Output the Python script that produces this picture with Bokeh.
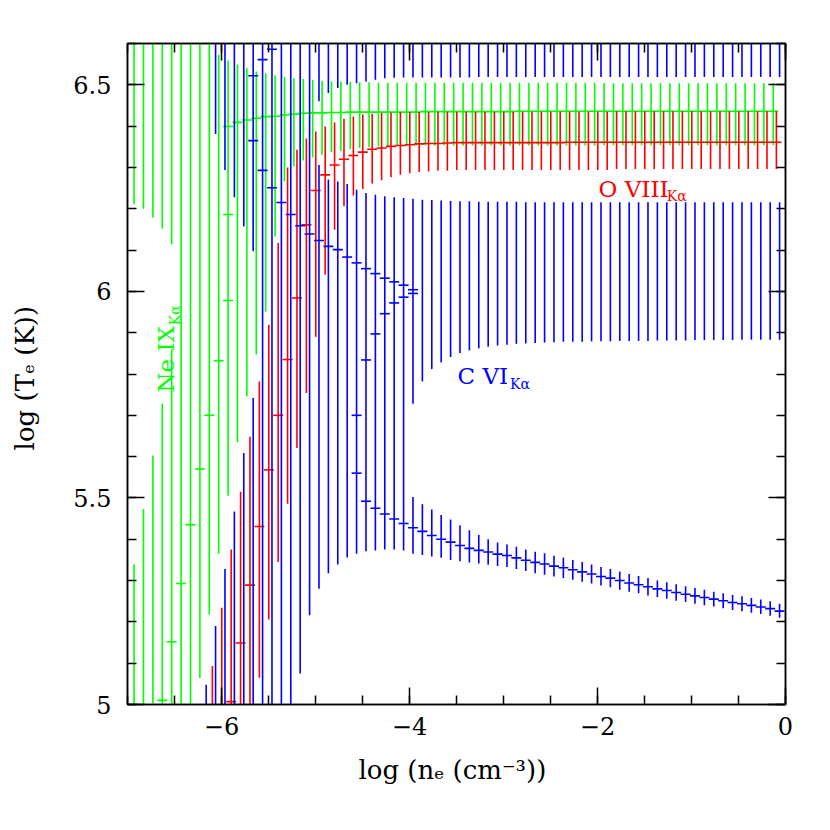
import numpy as np
from bokeh.plotting import figure
from bokeh.models import Range1d, LinearAxis, FixedTicker, ColumnDataSource
from bokeh.transform import dodge
from bokeh.core.properties import value
from bokeh.embed import file_html
from bokeh.resources import INLINE

# ---------------- data ----------------
# density grid, log(n_e) (index k = 0..68)
LOG_NE = [-6.93, -6.83, -6.73, -6.63, -6.53, -6.43, -6.33, -6.23, -6.13, -6.03,
          -5.93, -5.83, -5.73, -5.63, -5.53, -5.43, -5.33, -5.23, -5.13, -5.03,
          -4.93, -4.83, -4.73, -4.63, -4.53, -4.43, -4.33, -4.23, -4.13, -4.03,
          -3.93, -3.83, -3.73, -3.63, -3.53, -3.43, -3.33, -3.23, -3.13, -3.03,
          -2.93, -2.83, -2.73, -2.63, -2.53, -2.43, -2.33, -2.23, -2.13, -2.03,
          -1.93, -1.83, -1.73, -1.63, -1.53, -1.43, -1.33, -1.23, -1.13, -1.03,
          -0.93, -0.83, -0.73, -0.63, -0.53, -0.43, -0.33, -0.23, -0.13]

OFF_LOW = 4.9    # interval continues below the plotted range
OFF_TOP = 6.7    # interval continues above the plotted range

# ---- Ne IX (green) ----
NE_MAIN_K = list(range(0, 69))
NE_MAIN_LO = [4.9, 4.9, 4.9, 4.9, 4.9, 4.9, 4.9, 5.064, 5.218, 5.365,
              5.505, 5.635, 5.746, 5.847, 5.951, 6.133, 6.266, 6.303, 6.317, 6.324,
              6.331, 6.337, 6.340, 6.344, 6.347, 6.349, 6.351, 6.352, 6.353, 6.353,
              6.353, 6.353, 6.353, 6.353, 6.353, 6.353, 6.353, 6.353, 6.353, 6.353,
              6.353, 6.353, 6.353, 6.353, 6.353, 6.353, 6.353, 6.353, 6.353, 6.353,
              6.354, 6.354, 6.354, 6.354, 6.354, 6.354, 6.354, 6.354, 6.354, 6.354,
              6.354, 6.354, 6.354, 6.354, 6.354, 6.354, 6.354, 6.354, 6.354]
NE_MAIN_HI = [5.339, 5.473, 5.603, 5.728, 5.860, 6.7, 6.7, 6.7, 6.7, 6.573,
              6.559, 6.549, 6.540, 6.532, 6.528, 6.523, 6.519, 6.516, 6.514, 6.512,
              6.510, 6.508, 6.508, 6.507, 6.506, 6.506, 6.505, 6.505, 6.505, 6.505,
              6.505, 6.505, 6.505, 6.505, 6.505, 6.505, 6.505, 6.505, 6.505, 6.505,
              6.505, 6.505, 6.505, 6.505, 6.505, 6.505, 6.505, 6.505, 6.505, 6.505,
              6.504, 6.504, 6.504, 6.504, 6.504, 6.504, 6.504, 6.504, 6.504, 6.504,
              6.504, 6.504, 6.504, 6.504, 6.504, 6.504, 6.504, 6.504, 6.504]
NE_UP_K = [0, 1, 2, 3, 4]
NE_UP_LO = [6.211, 6.200, 6.179, 6.152, 6.114]
NE_CAP_K = [3, 4, 5, 6, 7, 8, 9, 10, 10, 10] + list(range(11, 69))
NE_CAP_T = [5.010, 5.152, 5.293, 5.435, 5.570, 5.700, 5.832, 5.978, 6.186, 6.399,
            6.409, 6.415, 6.419, 6.423, 6.424, 6.427, 6.429, 6.431, 6.432, 6.432,
            6.433, 6.433, 6.434, 6.434, 6.434, 6.434, 6.434, 6.434, 6.434, 6.434,
            6.435, 6.435, 6.435, 6.435, 6.435, 6.435, 6.435, 6.435, 6.435, 6.435,
            6.436, 6.436, 6.436, 6.436, 6.436, 6.436, 6.436, 6.436, 6.436, 6.436,
            6.436, 6.436, 6.436, 6.436, 6.436, 6.436, 6.436, 6.436, 6.436, 6.436,
            6.436, 6.436, 6.436, 6.436, 6.436, 6.436, 6.436, 6.436]

# ---- O VIII (red) ----
O8_MAIN_K = list(range(8, 69))
O8_MAIN_LO = [4.9, 4.9, 4.9, 4.9, 4.9, 5.065, 5.206, 5.345, 5.486, 5.621,
              5.754, 5.890, 6.040, 6.149, 6.206, 6.232, 6.248, 6.261, 6.269, 6.276,
              6.282, 6.286, 6.289, 6.290, 6.292, 6.292, 6.294, 6.294, 6.294, 6.294,
              6.294, 6.294, 6.294, 6.294, 6.294, 6.294, 6.294, 6.294, 6.294, 6.294,
              6.294, 6.294, 6.294, 6.296, 6.296, 6.296, 6.296, 6.296, 6.296, 6.296,
              6.296, 6.296, 6.296, 6.296, 6.296, 6.296, 6.296, 6.296, 6.296, 6.296,
              6.296]
O8_MAIN_HI = [5.093, 5.234, 5.375, 5.515, 5.648, 5.782, 5.919, 6.117, 6.300, 6.343,
              6.370, 6.387, 6.399, 6.409, 6.418, 6.423, 6.428, 6.430, 6.432, 6.433,
              6.434, 6.434, 6.434, 6.434, 6.435, 6.435, 6.435, 6.435, 6.435, 6.435,
              6.435, 6.435, 6.435, 6.435, 6.435, 6.435, 6.435, 6.435, 6.435, 6.435,
              6.435, 6.435, 6.435, 6.436, 6.436, 6.436, 6.436, 6.436, 6.436, 6.436,
              6.436, 6.436, 6.436, 6.436, 6.436, 6.436, 6.436, 6.436, 6.436, 6.436,
              6.436]
O8_CAP_K = list(range(10, 69))
O8_CAP_T = [5.007, 5.149, 5.289, 5.431, 5.568, 5.700, 5.835, 5.984, 6.161, 6.244,
            6.282, 6.306, 6.320, 6.329, 6.337, 6.344, 6.347, 6.351, 6.353, 6.355,
            6.357, 6.358, 6.358, 6.359, 6.360, 6.360, 6.360, 6.360, 6.360, 6.360,
            6.360, 6.360, 6.360, 6.360, 6.360, 6.360, 6.361, 6.361, 6.361, 6.361,
            6.361, 6.361, 6.361, 6.361, 6.361, 6.361, 6.361, 6.361, 6.361, 6.361,
            6.361, 6.361, 6.361, 6.361, 6.361, 6.361, 6.361, 6.361, 6.361]

# ---- C VI (blue) ----
C6_MAIN_K = list(range(7, 69))
C6_MAIN_LO = [4.9, 4.9, 4.9, 4.9, 4.9, 4.9, 4.9, 4.9, 4.9, 4.9,
              5.075, 5.216, 5.280, 5.318, 5.339, 5.356, 5.365, 5.371, 5.373, 5.375,
              5.375, 5.373, 5.365, 5.362, 5.358, 5.355, 5.350, 5.347, 5.344, 5.341,
              5.338, 5.335, 5.333, 5.328, 5.323, 5.318, 5.314, 5.310, 5.306, 5.302,
              5.297, 5.293, 5.288, 5.284, 5.278, 5.273, 5.269, 5.264, 5.260, 5.256,
              5.251, 5.248, 5.244, 5.240, 5.237, 5.233, 5.229, 5.226, 5.222, 5.219,
              5.215, 5.210]
C6_MAIN_HI = [5.048, 5.190, 5.328, 5.467, 5.609, 5.742, 6.7, 6.7, 6.7, 6.7,
              6.7, 6.7, 6.306, 6.271, 6.266, 6.260, 6.246, 6.238, 6.234, 6.230,
              6.228, 6.226, 5.502, 5.485, 5.472, 5.459, 5.448, 5.434, 5.422, 5.410,
              5.400, 5.392, 5.387, 5.382, 5.375, 5.370, 5.366, 5.360, 5.356, 5.350,
              5.345, 5.339, 5.333, 5.328, 5.322, 5.316, 5.311, 5.306, 5.300, 5.296,
              5.291, 5.286, 5.282, 5.278, 5.273, 5.269, 5.265, 5.262, 5.258, 5.254,
              5.250, 5.244]
C6_TOP_K = [8, 9, 10, 11, 12] + list(range(19, 69))
C6_TOP_LO = [6.381, 6.294, 6.228, 6.157, 6.097,
             6.460, 6.480, 6.492, 6.500, 6.504, 6.508, 6.512, 6.516, 6.517, 6.518,
             6.518, 6.518, 6.518, 6.518, 6.518, 6.518, 6.518, 6.519, 6.519, 6.519,
             6.519, 6.519, 6.519, 6.519, 6.519, 6.519, 6.519, 6.519, 6.519, 6.519,
             6.519, 6.519, 6.519, 6.519, 6.519, 6.519, 6.519, 6.519, 6.519, 6.519,
             6.519, 6.519, 6.519, 6.519, 6.519, 6.519, 6.519, 6.519, 6.519, 6.519]
C6_MID_K = list(range(29, 69))
C6_MID_LO = [5.728, 5.782, 5.812, 5.828, 5.841, 5.851, 5.857, 5.862, 5.866, 5.869,
             5.871, 5.873, 5.874, 5.875, 5.876, 5.877, 5.878, 5.878, 5.878, 5.879,
             5.879, 5.879, 5.880, 5.880, 5.880, 5.880, 5.881, 5.881, 5.881, 5.881,
             5.882, 5.882, 5.882, 5.882, 5.882, 5.883, 5.883, 5.883, 5.883, 5.883]
C6_MID_HI = [6.224, 6.222, 6.221, 6.220, 6.219, 6.218, 6.218, 6.217, 6.217, 6.217,
             6.217, 6.217, 6.216, 6.216, 6.216, 6.216, 6.216, 6.216, 6.216, 6.216,
             6.216, 6.216, 6.216, 6.216, 6.216, 6.216, 6.216, 6.216, 6.216, 6.216,
             6.216, 6.216, 6.216, 6.216, 6.216, 6.216, 6.216, 6.216, 6.216, 6.216]
C6_CAP_K = [12, 12, 13, 13, 14, 14, 15, 16, 17, 18, 19, 20, 21, 22,
            23, 23, 23, 24, 24, 24, 25, 25, 25, 26, 26, 26, 27, 27, 27,
            28, 28, 28, 29, 29, 29] + list(range(30, 69))
C6_CAP_T = [6.522, 6.365, 6.561, 6.293, 6.586, 6.251, 6.215, 6.186, 6.159, 6.139,
            6.123, 6.109, 6.101, 6.083,
            6.069, 5.700, 5.560, 6.055, 5.834, 5.492, 6.043, 5.897, 5.475,
            6.032, 5.946, 5.461, 6.023, 5.972, 5.449, 6.015, 5.986, 5.438,
            6.004, 5.995, 5.428,
            5.419, 5.409, 5.400, 5.393, 5.385, 5.378, 5.373, 5.369, 5.364,
            5.3605, 5.355, 5.349, 5.344, 5.340, 5.335, 5.331, 5.326, 5.321, 5.316,
            5.310, 5.306, 5.300, 5.294, 5.290, 5.285, 5.280, 5.276, 5.271, 5.267,
            5.263, 5.259, 5.255, 5.251, 5.247, 5.244, 5.240, 5.236, 5.232, 5.226]

X_TICKS = [-6, -4, -2, 0]
X_TICK_LABELS = ["\u22126", "\u22124", "\u22122", "0"]
Y_TICKS = [5, 5.5, 6, 6.5]
Y_TICK_LABELS = ["5", "5.5", "6", "6.5"]

# ---------------- styling ----------------
GREEN, RED, BLUE = "#00ff00", "#ff0000", "#0000ff"
FONT = "DejaVu Serif"
OFFSETS = {"ne": 0.0, "o8": 0.033, "c6": 0.067}


def bars(ks, lo, hi):
    return ColumnDataSource(dict(x=[LOG_NE[k] for k in ks], lo=lo, hi=hi))


def caps(ks, t):
    return ColumnDataSource(dict(x=[LOG_NE[k] for k in ks], t=t))


p = figure(frame_width=658, frame_height=661,
           x_range=Range1d(-7, 0), y_range=Range1d(5, 6.6),
           output_backend="svg", toolbar_location=None,
           min_border_left=127, min_border_right=20,
           min_border_top=43, min_border_bottom=100,
           background_fill_color="white", border_fill_color="white")
p.xgrid.visible = False
p.ygrid.visible = False
p.outline_line_color = "black"
p.outline_line_width = 1.5

series = [
    ("ne", GREEN,
     [(NE_MAIN_K, NE_MAIN_LO, NE_MAIN_HI),
      (NE_UP_K, NE_UP_LO, [OFF_TOP] * len(NE_UP_K))],
     (NE_CAP_K, NE_CAP_T)),
    ("o8", RED,
     [(O8_MAIN_K, O8_MAIN_LO, O8_MAIN_HI)],
     (O8_CAP_K, O8_CAP_T)),
    ("c6", BLUE,
     [(C6_MAIN_K, C6_MAIN_LO, C6_MAIN_HI),
      (C6_TOP_K, C6_TOP_LO, [OFF_TOP] * len(C6_TOP_K)),
      (C6_MID_K, C6_MID_LO, C6_MID_HI)],
     (C6_CAP_K, C6_CAP_T)),
]

for name, color, intervals, (ck, ct) in series:
    off = OFFSETS[name]
    for ks, lo, hi in intervals:
        src = bars(ks, lo, hi)
        p.segment(x0=dodge("x", off), y0="lo", x1=dodge("x", off), y1="hi",
                  source=src, line_color=color, line_width=1.6)
    p.scatter(x=dodge("x", off), y="t", source=caps(ck, ct), marker="dash",
              size=10, line_color=color, line_width=1.6)

# line labels
MAIN_SIZE, SUB_SIZE = "23px", "14px"
p.text(x=[-1.989], y=[6.247], text=["O VIII"], text_color=RED,
       text_font=value(FONT), text_font_size=MAIN_SIZE, text_baseline="alphabetic")
p.text(x=[-1.262], y=[6.230], text=["K\u03b1"], text_color=RED,
       text_font=value(FONT), text_font_size=SUB_SIZE, text_baseline="alphabetic")
p.text(x=[-3.489], y=[5.794], text=["C VI"], text_color=BLUE,
       text_font=value(FONT), text_font_size=MAIN_SIZE, text_baseline="alphabetic")
p.text(x=[-2.93], y=[5.777], text=["K\u03b1"], text_color=BLUE,
       text_font=value(FONT), text_font_size=SUB_SIZE, text_baseline="alphabetic")
p.text(x=[-6.590], y=[5.755], text=["Ne IX"], text_color=GREEN, angle=np.pi / 2,
       text_font=value(FONT), text_font_size=MAIN_SIZE, text_baseline="alphabetic")
p.text(x=[-6.500], y=[5.918], text=["K\u03b1"], text_color=GREEN, angle=np.pi / 2,
       text_font=value(FONT), text_font_size=SUB_SIZE, text_baseline="alphabetic")

# axes
x_ticker = FixedTicker(ticks=X_TICKS, minor_ticks=list(np.arange(-7, 0.001, 0.5)))
y_ticker = FixedTicker(ticks=Y_TICKS, minor_ticks=list(np.round(np.arange(5, 6.601, 0.1), 2)))

p.add_layout(LinearAxis(), "above")
p.add_layout(LinearAxis(), "right")

for ax in p.xaxis:
    ax.ticker = x_ticker
for ax in p.yaxis:
    ax.ticker = y_ticker

for ax in list(p.xaxis) + list(p.yaxis):
    ax.major_tick_in = 17
    ax.major_tick_out = 0
    ax.minor_tick_in = 9
    ax.minor_tick_out = 0
    ax.major_tick_line_width = 1.5
    ax.minor_tick_line_width = 1.5
    ax.major_tick_line_color = "black"
    ax.minor_tick_line_color = "black"
    ax.axis_line_width = 1.5
    ax.axis_line_color = "black"
    ax.major_label_text_font = FONT
    ax.major_label_text_font_size = "24px"
    ax.major_label_text_color = "black"

p.below[0].major_label_overrides = dict(zip(X_TICKS, X_TICK_LABELS))
p.left[0].major_label_overrides = dict(zip(Y_TICKS, Y_TICK_LABELS))
p.above[0].major_label_overrides = {t: "" for t in X_TICKS}
p.right[0].major_label_overrides = {t: "" for t in Y_TICKS}

p.below[0].major_label_standoff = 12
p.left[0].major_label_standoff = 16

p.below[0].axis_label = "log (n\u2091  (cm\u207b\u00b3))"
p.left[0].axis_label = "log (T\u2091  (K))"
for ax in (p.below[0], p.left[0]):
    ax.axis_label_text_font = FONT
    ax.axis_label_text_font_size = "26px"
    ax.axis_label_text_font_style = "normal"
    ax.axis_label_text_color = "black"
p.below[0].axis_label_standoff = 17
p.left[0].axis_label_standoff = 30

open("out.html", "w").write(file_html(p, INLINE))
